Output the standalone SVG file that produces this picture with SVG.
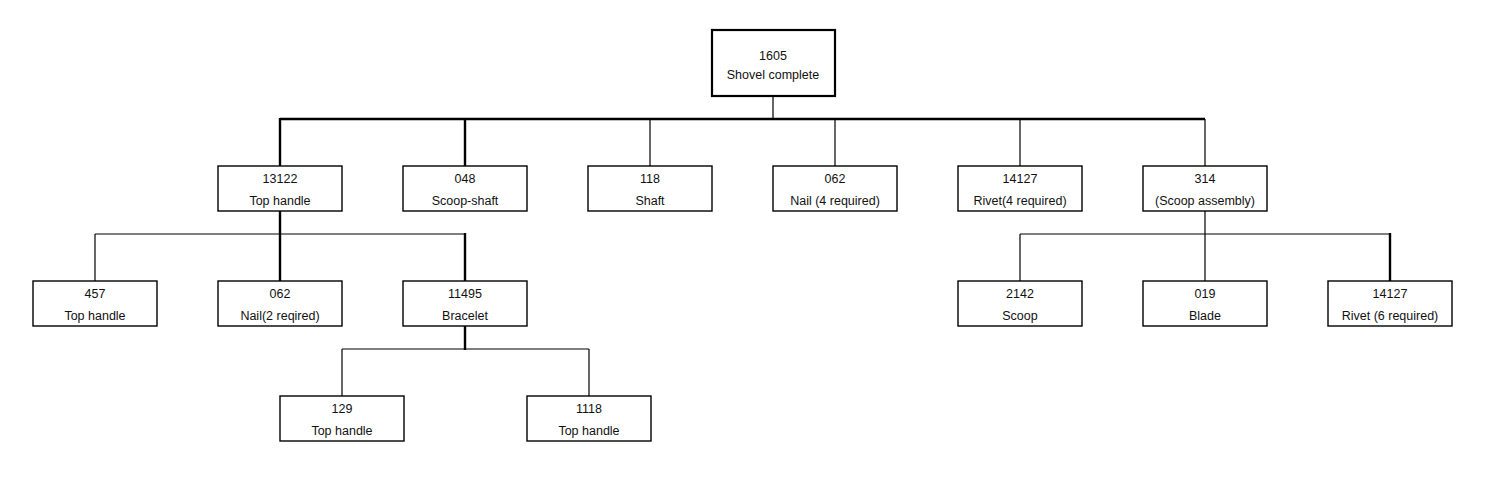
<svg xmlns="http://www.w3.org/2000/svg" width="1493" height="489" viewBox="0 0 1493 489">
<style>
.box{fill:#fff;stroke:#000;stroke-width:1.4}
.root{fill:#fff;stroke:#000;stroke-width:2.2}
.t{font-family:"Liberation Sans",Arial,sans-serif;font-size:12.5px;fill:#111;text-anchor:middle}
.thin{stroke:#000;stroke-width:1.2;fill:none}
.thick{stroke:#000;stroke-width:2.4;fill:none}
</style>
<rect width="1493" height="489" fill="#fff"/>
<g id="connectors">
<line class="thin" x1="773" y1="96" x2="773" y2="119"/>
<line class="thick" x1="280" y1="119" x2="1205" y2="119"/>
<line class="thick" x1="280" y1="118" x2="280" y2="166"/>
<line class="thick" x1="465" y1="118" x2="465" y2="166"/>
<line class="thin" x1="650" y1="119" x2="650" y2="166"/>
<line class="thin" x1="835" y1="119" x2="835" y2="166"/>
<line class="thin" x1="1020" y1="119" x2="1020" y2="166"/>
<line class="thin" x1="1205" y1="119" x2="1205" y2="166"/>
<line class="thick" x1="280" y1="211" x2="280" y2="281"/>
<line class="thin" x1="95" y1="234" x2="465" y2="234"/>
<line class="thin" x1="95" y1="234" x2="95" y2="281"/>
<line class="thick" x1="465" y1="233" x2="465" y2="281"/>
<line class="thin" x1="1205" y1="211" x2="1205" y2="281"/>
<line class="thin" x1="1020" y1="234" x2="1390" y2="234"/>
<line class="thin" x1="1020" y1="234" x2="1020" y2="281"/>
<line class="thick" x1="1390" y1="233" x2="1390" y2="281"/>
<line class="thick" x1="465" y1="326" x2="465" y2="350"/>
<line class="thin" x1="342" y1="349" x2="589" y2="349"/>
<line class="thin" x1="342" y1="349" x2="342" y2="396"/>
<line class="thin" x1="589" y1="349" x2="589" y2="396"/>
</g>
<g id="n1605"><rect class="root" x="712" y="30" width="123" height="66"/><text class="t" x="773" y="60">1605</text><text class="t" x="773" y="79">Shovel complete</text></g>
<g id="n13122"><rect class="box" x="218" y="166" width="124" height="45"/><text class="t" x="280" y="183">13122</text><text class="t" x="280" y="205">Top handle</text></g>
<g id="n048"><rect class="box" x="403" y="166" width="124" height="45"/><text class="t" x="465" y="183">048</text><text class="t" x="465" y="205">Scoop-shaft</text></g>
<g id="n118"><rect class="box" x="588" y="166" width="124" height="45"/><text class="t" x="650" y="183">118</text><text class="t" x="650" y="205">Shaft</text></g>
<g id="n062a"><rect class="box" x="773" y="166" width="124" height="45"/><text class="t" x="835" y="183">062</text><text class="t" x="835" y="205">Nail (4 required)</text></g>
<g id="n14127a"><rect class="box" x="958" y="166" width="124" height="45"/><text class="t" x="1020" y="183">14127</text><text class="t" x="1020" y="205">Rivet(4 required)</text></g>
<g id="n314"><rect class="box" x="1143" y="166" width="124" height="45"/><text class="t" x="1205" y="183">314</text><text class="t" x="1205" y="205">(Scoop assembly)</text></g>
<g id="n457"><rect class="box" x="33" y="281" width="124" height="45"/><text class="t" x="95" y="298">457</text><text class="t" x="95" y="320">Top handle</text></g>
<g id="n062b"><rect class="box" x="218" y="281" width="124" height="45"/><text class="t" x="280" y="298">062</text><text class="t" x="280" y="320">Nail(2 reqired)</text></g>
<g id="n11495"><rect class="box" x="403" y="281" width="124" height="45"/><text class="t" x="465" y="298">11495</text><text class="t" x="465" y="320">Bracelet</text></g>
<g id="n2142"><rect class="box" x="958" y="281" width="124" height="45"/><text class="t" x="1020" y="298">2142</text><text class="t" x="1020" y="320">Scoop</text></g>
<g id="n019"><rect class="box" x="1143" y="281" width="124" height="45"/><text class="t" x="1205" y="298">019</text><text class="t" x="1205" y="320">Blade</text></g>
<g id="n14127b"><rect class="box" x="1328" y="281" width="124" height="45"/><text class="t" x="1390" y="298">14127</text><text class="t" x="1390" y="320">Rivet (6 required)</text></g>
<g id="n129"><rect class="box" x="280" y="396" width="124" height="45"/><text class="t" x="342" y="413">129</text><text class="t" x="342" y="435">Top handle</text></g>
<g id="n1118"><rect class="box" x="527" y="396" width="124" height="45"/><text class="t" x="589" y="413">1118</text><text class="t" x="589" y="435">Top handle</text></g>
</svg>
